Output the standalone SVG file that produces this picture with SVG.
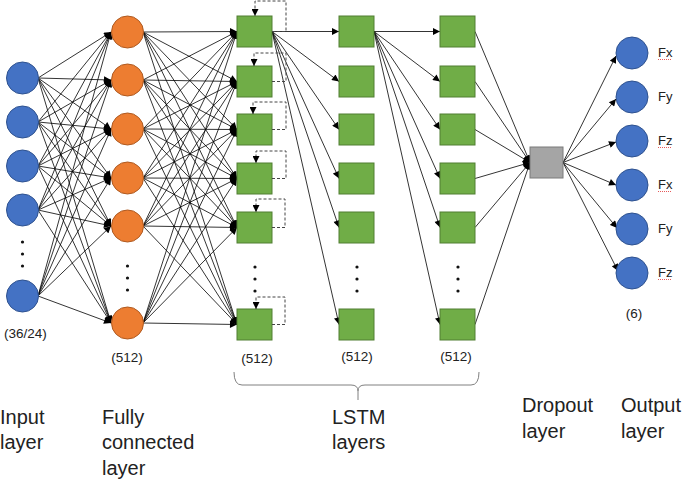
<svg xmlns="http://www.w3.org/2000/svg" width="685" height="481" viewBox="0 0 685 481">
<style>
.in{fill:#4472C4;stroke:#2F528F;stroke-width:1}
.fc{fill:#ED7D31;stroke:#AE5A21;stroke-width:1}
.ls{fill:#70AD47;stroke:#507E32;stroke-width:1}
.dr{fill:#A5A5A5;stroke:#7B7B7B;stroke-width:1}
.c line{stroke:#000;stroke-width:0.8;marker-end:url(#ah)}
.loop{fill:none;stroke:#444;stroke-width:1;stroke-dasharray:3,2;marker-end:url(#ah)}
text{font-family:"Liberation Sans",Arial,sans-serif;fill:#222}
.sm{font-size:13.5px}
.lb{font-size:20px}
.fo{font-size:13px}
.dot{fill:#111}
.sq{fill:none;stroke:#E03030;stroke-width:0.8;stroke-dasharray:1,1}
</style>
<defs>
<marker id="ah" viewBox="0 0 10 10" refX="10" refY="5" markerWidth="8" markerHeight="7" markerUnits="userSpaceOnUse" orient="auto">
<path d="M0,0 L10,5 L0,10 z" fill="#000"/>
</marker>
</defs>
<rect width="685" height="481" fill="#fff"/>

<g id="connectors" class="c">
<!-- input -> FC -->
<line x1="38" y1="78" x2="111" y2="32"/><line x1="38" y1="78" x2="111" y2="80"/><line x1="38" y1="78" x2="111" y2="129"/><line x1="38" y1="78" x2="111" y2="178"/><line x1="38" y1="78" x2="111" y2="226"/><line x1="38" y1="78" x2="111" y2="323"/>
<line x1="38" y1="122" x2="111" y2="32"/><line x1="38" y1="122" x2="111" y2="80"/><line x1="38" y1="122" x2="111" y2="129"/><line x1="38" y1="122" x2="111" y2="178"/><line x1="38" y1="122" x2="111" y2="226"/><line x1="38" y1="122" x2="111" y2="323"/>
<line x1="38" y1="166" x2="111" y2="32"/><line x1="38" y1="166" x2="111" y2="80"/><line x1="38" y1="166" x2="111" y2="129"/><line x1="38" y1="166" x2="111" y2="178"/><line x1="38" y1="166" x2="111" y2="226"/><line x1="38" y1="166" x2="111" y2="323"/>
<line x1="38" y1="210" x2="111" y2="32"/><line x1="38" y1="210" x2="111" y2="80"/><line x1="38" y1="210" x2="111" y2="129"/><line x1="38" y1="210" x2="111" y2="178"/><line x1="38" y1="210" x2="111" y2="226"/><line x1="38" y1="210" x2="111" y2="323"/>
<line x1="38" y1="296" x2="111" y2="32"/><line x1="38" y1="296" x2="111" y2="80"/><line x1="38" y1="296" x2="111" y2="129"/><line x1="38" y1="296" x2="111" y2="178"/><line x1="38" y1="296" x2="111" y2="226"/><line x1="38" y1="296" x2="111" y2="323"/>
<!-- FC -> LSTM1 -->
<line x1="143" y1="32" x2="237" y2="31.5"/><line x1="143" y1="32" x2="237" y2="81.5"/><line x1="143" y1="32" x2="237" y2="129.5"/><line x1="143" y1="32" x2="237" y2="178.5"/><line x1="143" y1="32" x2="237" y2="227.5"/><line x1="143" y1="32" x2="237" y2="324.5"/>
<line x1="143" y1="80" x2="237" y2="31.5"/><line x1="143" y1="80" x2="237" y2="81.5"/><line x1="143" y1="80" x2="237" y2="129.5"/><line x1="143" y1="80" x2="237" y2="178.5"/><line x1="143" y1="80" x2="237" y2="227.5"/><line x1="143" y1="80" x2="237" y2="324.5"/>
<line x1="143" y1="129" x2="237" y2="31.5"/><line x1="143" y1="129" x2="237" y2="81.5"/><line x1="143" y1="129" x2="237" y2="129.5"/><line x1="143" y1="129" x2="237" y2="178.5"/><line x1="143" y1="129" x2="237" y2="227.5"/><line x1="143" y1="129" x2="237" y2="324.5"/>
<line x1="143" y1="178" x2="237" y2="31.5"/><line x1="143" y1="178" x2="237" y2="81.5"/><line x1="143" y1="178" x2="237" y2="129.5"/><line x1="143" y1="178" x2="237" y2="178.5"/><line x1="143" y1="178" x2="237" y2="227.5"/><line x1="143" y1="178" x2="237" y2="324.5"/>
<line x1="143" y1="226" x2="237" y2="31.5"/><line x1="143" y1="226" x2="237" y2="81.5"/><line x1="143" y1="226" x2="237" y2="129.5"/><line x1="143" y1="226" x2="237" y2="178.5"/><line x1="143" y1="226" x2="237" y2="227.5"/><line x1="143" y1="226" x2="237" y2="324.5"/>
<line x1="143" y1="323" x2="237" y2="31.5"/><line x1="143" y1="323" x2="237" y2="81.5"/><line x1="143" y1="323" x2="237" y2="129.5"/><line x1="143" y1="323" x2="237" y2="178.5"/><line x1="143" y1="323" x2="237" y2="227.5"/><line x1="143" y1="323" x2="237" y2="324.5"/>
<!-- LSTM1 -> LSTM2 -->
<line x1="272" y1="31.5" x2="339" y2="31.5"/><line x1="272" y1="31.5" x2="339" y2="81.5"/><line x1="272" y1="31.5" x2="339" y2="129.5"/><line x1="272" y1="31.5" x2="339" y2="178.5"/><line x1="272" y1="31.5" x2="339" y2="227.5"/><line x1="272" y1="31.5" x2="339" y2="324.5"/>
<!-- LSTM2 -> LSTM3 -->
<line x1="374" y1="31.5" x2="440" y2="31.5"/><line x1="374" y1="31.5" x2="440" y2="81.5"/><line x1="374" y1="31.5" x2="440" y2="129.5"/><line x1="374" y1="31.5" x2="440" y2="178.5"/><line x1="374" y1="31.5" x2="440" y2="227.5"/><line x1="374" y1="31.5" x2="440" y2="324.5"/>
<!-- LSTM3 -> Dropout -->
<line x1="475" y1="31.5" x2="530" y2="162.5"/><line x1="475" y1="81.5" x2="530" y2="162.5"/><line x1="475" y1="129.5" x2="530" y2="162.5"/><line x1="475" y1="178.5" x2="530" y2="162.5"/><line x1="475" y1="227.5" x2="530" y2="162.5"/><line x1="475" y1="324.5" x2="530" y2="162.5"/>
<!-- Dropout -> Output -->
<line x1="563" y1="162.5" x2="616" y2="56"/><line x1="563" y1="162.5" x2="616" y2="99"/><line x1="563" y1="162.5" x2="616" y2="142"/><line x1="563" y1="162.5" x2="616" y2="185"/><line x1="563" y1="162.5" x2="617" y2="228"/><line x1="563" y1="162.5" x2="618" y2="271"/>
</g>

<g id="input-layer">
<circle class="in" cx="22.5" cy="78" r="16"/>
<circle class="in" cx="22.5" cy="122" r="16"/>
<circle class="in" cx="22.5" cy="166" r="16"/>
<circle class="in" cx="22.5" cy="210" r="16"/>
<circle class="in" cx="22.5" cy="296" r="16"/>
<circle class="dot" cx="22.5" cy="242" r="1.6"/><circle class="dot" cx="22.5" cy="254" r="1.6"/><circle class="dot" cx="22.5" cy="266" r="1.6"/>
<text class="sm" x="4" y="338">(36/24)</text>
</g>

<g id="fc-layer">
<circle class="fc" cx="127.5" cy="32" r="16"/>
<circle class="fc" cx="127.5" cy="80" r="16"/>
<circle class="fc" cx="127.5" cy="129" r="16"/>
<circle class="fc" cx="127.5" cy="178" r="16"/>
<circle class="fc" cx="127.5" cy="226" r="16"/>
<circle class="fc" cx="127.5" cy="323" r="16"/>
<circle class="dot" cx="127.5" cy="266" r="1.6"/><circle class="dot" cx="127.5" cy="278" r="1.6"/><circle class="dot" cx="127.5" cy="290" r="1.6"/>
<text class="sm" x="127" y="362" text-anchor="middle">(512)</text>
</g>

<g id="lstm1">
<rect class="ls" x="237" y="16" width="35" height="31"/>
<rect class="ls" x="237" y="66" width="35" height="31"/>
<rect class="ls" x="237" y="114" width="35" height="31"/>
<rect class="ls" x="237" y="163" width="35" height="31"/>
<rect class="ls" x="237" y="212" width="35" height="31"/>
<rect class="ls" x="237" y="309" width="35" height="31"/>
<circle class="dot" cx="255" cy="267" r="1.6"/><circle class="dot" cx="255" cy="279" r="1.6"/><circle class="dot" cx="255" cy="291" r="1.6"/>
<path class="loop" d="M272,31.5 H286 V1 H255 V16"/>
<path class="loop" d="M272,81.5 H286 V53 H254 V66"/>
<path class="loop" d="M272,129.5 H286 V102 H253 V114"/>
<path class="loop" d="M272,178.5 H286 V151 H256 V163"/>
<path class="loop" d="M272,227.5 H285 V199 H256 V212"/>
<path class="loop" d="M272,324.5 H285 V297 H256 V309"/>
<text class="sm" x="257" y="363" text-anchor="middle">(512)</text>
</g>

<g id="lstm2">
<rect class="ls" x="339" y="16" width="35" height="31"/>
<rect class="ls" x="339" y="66" width="35" height="31"/>
<rect class="ls" x="339" y="114" width="35" height="31"/>
<rect class="ls" x="339" y="163" width="35" height="31"/>
<rect class="ls" x="339" y="212" width="35" height="31"/>
<rect class="ls" x="339" y="309" width="35" height="31"/>
<circle class="dot" cx="357" cy="267" r="1.6"/><circle class="dot" cx="357" cy="279" r="1.6"/><circle class="dot" cx="357" cy="291" r="1.6"/>
<text class="sm" x="357" y="361" text-anchor="middle">(512)</text>
</g>

<g id="lstm3">
<rect class="ls" x="440" y="16" width="35" height="31"/>
<rect class="ls" x="440" y="66" width="35" height="31"/>
<rect class="ls" x="440" y="114" width="35" height="31"/>
<rect class="ls" x="440" y="163" width="35" height="31"/>
<rect class="ls" x="440" y="212" width="35" height="31"/>
<rect class="ls" x="440" y="309" width="35" height="31"/>
<circle class="dot" cx="458" cy="267" r="1.6"/><circle class="dot" cx="458" cy="279" r="1.6"/><circle class="dot" cx="458" cy="291" r="1.6"/>
<text class="sm" x="456" y="361" text-anchor="middle">(512)</text>
</g>

<g id="dropout">
<rect class="dr" x="530" y="147" width="33" height="31"/>
</g>

<g id="output-layer">
<circle class="in" cx="632" cy="53" r="16"/>
<circle class="in" cx="632" cy="97" r="16"/>
<circle class="in" cx="632" cy="141" r="16"/>
<circle class="in" cx="632" cy="185" r="16"/>
<circle class="in" cx="632" cy="229" r="16"/>
<circle class="in" cx="632" cy="273" r="16"/>
<text class="fo" x="658" y="57">Fx</text>
<text class="fo" x="658" y="101">Fy</text>
<text class="fo" x="658" y="145">Fz</text>
<text class="fo" x="658" y="189">Fx</text>
<text class="fo" x="658" y="233">Fy</text>
<text class="fo" x="658" y="277">Fz</text>
<path class="sq" d="M658,59.5 H672"/>
<path class="sq" d="M658,147.5 H671"/>
<path class="sq" d="M658,191.5 H672"/>
<path class="sq" d="M658,279.5 H671"/>
<text class="sm" x="634" y="318" text-anchor="middle">(6)</text>
</g>

<g id="brace">
<path d="M234,372 Q234,385 242,385 H351 Q358,385 358,391 Q358,385 365,385 H471 Q479,385 479,372 M358,391 V400" fill="none" stroke="#808080" stroke-width="1"/>
</g>

<g id="labels" class="lb">
<text x="0" y="424">Input</text>
<text x="0" y="449">layer</text>
<text x="102" y="424">Fully</text>
<text x="102" y="449">connected</text>
<text x="102" y="475">layer</text>
<text x="332" y="424">LSTM</text>
<text x="332" y="449">layers</text>
<text x="522" y="412">Dropout</text>
<text x="522" y="438">layer</text>
<text x="621" y="412">Output</text>
<text x="621" y="438">layer</text>
</g>
</svg>
